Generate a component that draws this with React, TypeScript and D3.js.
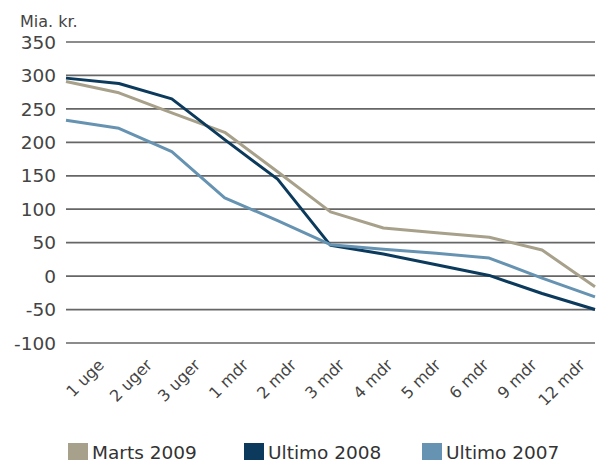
import React from 'react';
import * as d3 from 'd3';

const categories = ['1 uge', '2 uger', '3 uger', '1 mdr', '2 mdr', '3 mdr', '4 mdr', '5 mdr', '6 mdr', '9 mdr', '12 mdr'];
const marts2009 = [291, 274, 244, 215, 156, 96, 72, 65, 58, 39, -16];
const ultimo2008 = [296, 288, 265, 204, 145, 46, 33, 17, 1, -26, -50];
const ultimo2007 = [233, 221, 186, 117, 83, 47, 40, 34, 27, -3, -31];
const yTicks = [350, 300, 250, 200, 150, 100, 50, 0, -50, -100];

const series = [
  { name: 'Marts 2009', values: marts2009, color: '#a7a08a' },
  { name: 'Ultimo 2008', values: ultimo2008, color: '#0b3a5c' },
  { name: 'Ultimo 2007', values: ultimo2007, color: '#6693b2' },
];

const WIDTH = 601;
const HEIGHT = 463;
const FONT = '"DejaVu Sans", sans-serif';

const LineChart = () => {
  // skalaer
  const x = d3.scalePoint<string>().domain(categories).range([66, 595]);
  const xLabels = d3.scaleBand<string>().domain(categories).range([66, 595]);
  const y = d3.scaleLinear().domain([-100, 350]).range([343, 42]);

  const line = d3
    .line<number>()
    .x((_, i) => x(categories[i]) as number)
    .y((d) => y(d));

  const legendX = [68, 244, 422];

  return (
    <svg width={WIDTH} height={HEIGHT} style={{ display: 'block', position: 'absolute', left: 0, top: 0 }}>
      <rect width={WIDTH} height={HEIGHT} fill="#fff" />

      <text x={20} y={27} fontFamily={FONT} fontSize={16} fill="#444">Mia. kr.</text>

      {/* gitterlinjer og y-akse */}
      {yTicks.map((t) => (
        <g key={t}>
          <line x1={66} x2={595} y1={y(t)} y2={y(t)} stroke="#666" strokeWidth={1.7} />
          <text
            x={56}
            y={y(t)}
            dy="0.36em"
            textAnchor="end"
            fontFamily={FONT}
            fontSize={18.5}
            fill="#444"
          >
            {t}
          </text>
        </g>
      ))}

      {/* x-akse labels */}
      {categories.map((c) => {
        const lx = (xLabels(c) as number) + xLabels.bandwidth() / 2 + 15;
        return (
          <text
            key={c}
            transform={`translate(${lx},366) rotate(-45)`}
            textAnchor="end"
            fontFamily={FONT}
            fontSize={16}
            fill="#444"
          >
            {c}
          </text>
        );
      })}

      {/* linjer */}
      {series.map((s) => (
        <path key={s.name} d={line(s.values) || ''} fill="none" stroke={s.color} strokeWidth={3} strokeLinejoin="round" />
      ))}

      {/* legende */}
      {series.map((s, i) => (
        <g key={s.name}>
          <rect x={legendX[i]} y={443} width={20} height={17} fill={s.color} />
          <text x={legendX[i] + 24} y={459} fontFamily={FONT} fontSize={18.5} fill="#333">
            {s.name}
          </text>
        </g>
      ))}
    </svg>
  );
};

const App = () => <LineChart />;

export default App;
